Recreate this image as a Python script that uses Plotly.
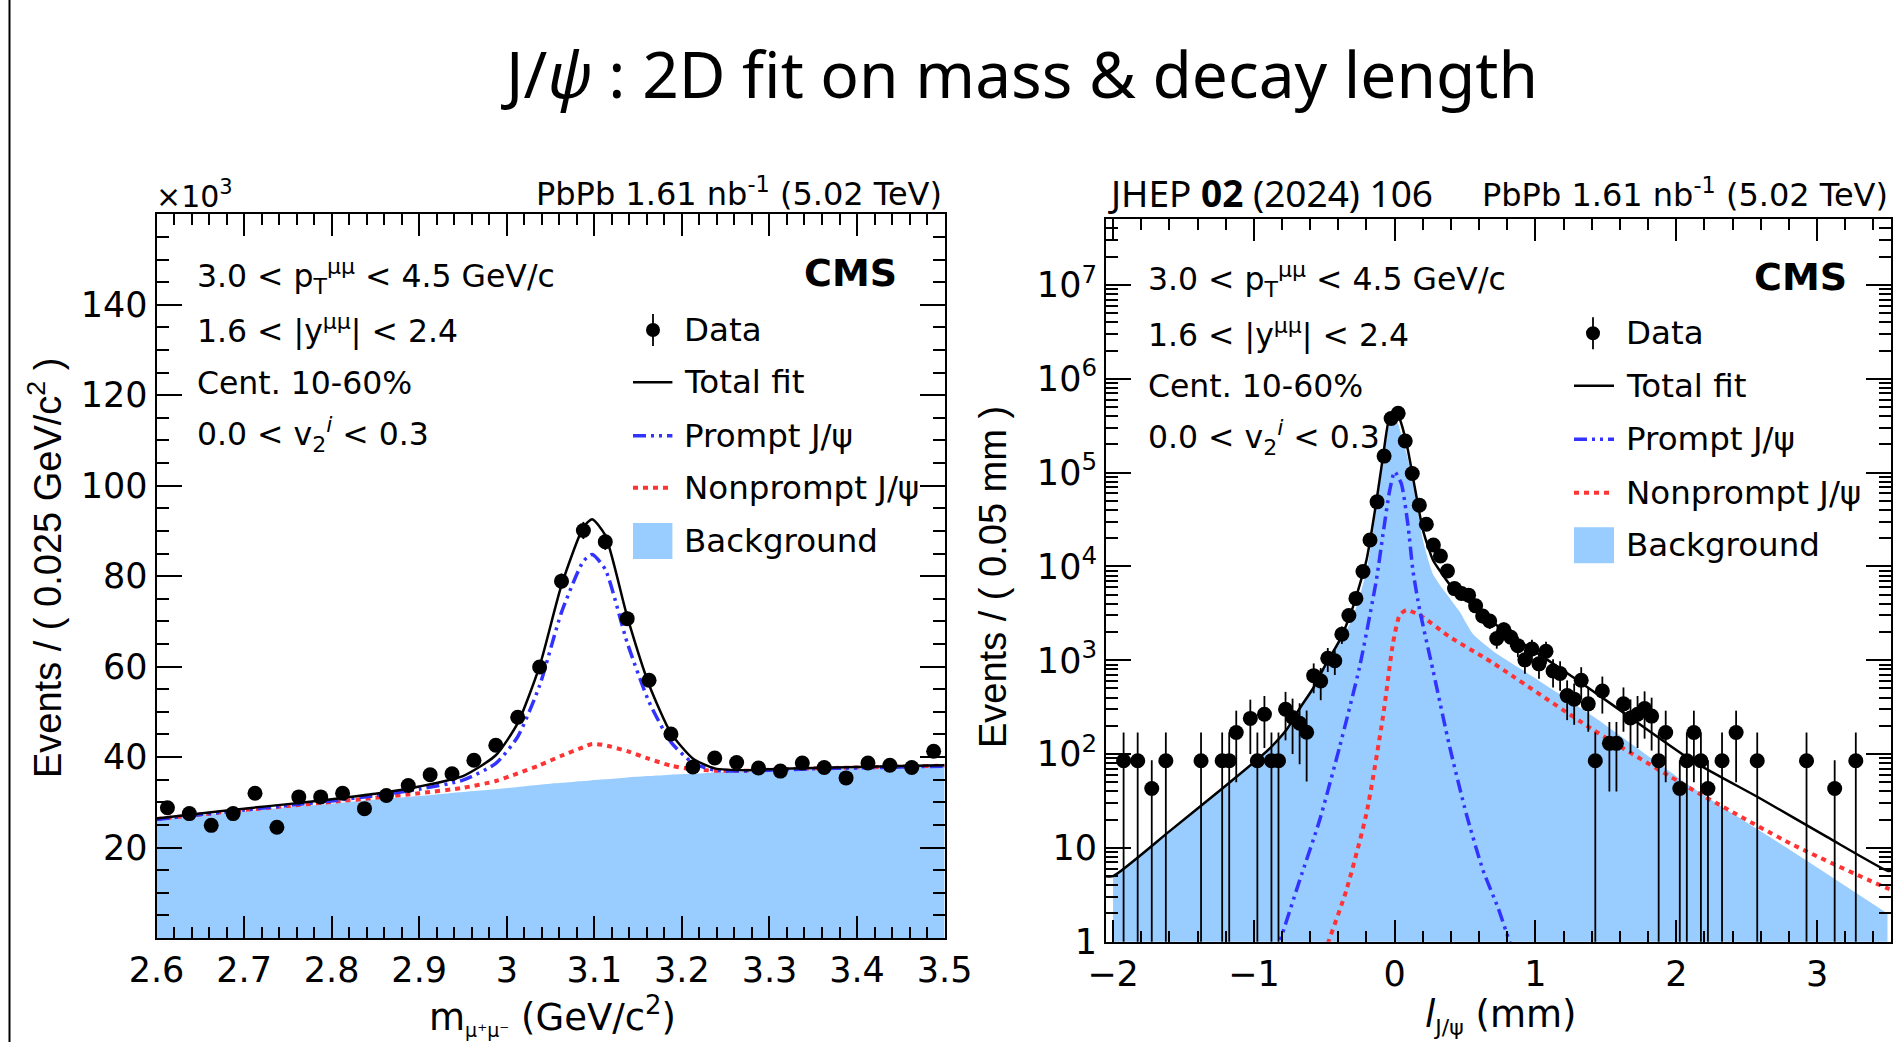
import plotly.graph_objects as go

W, H = 1894, 1042

# ---------------- Left panel: dimuon invariant mass (x10^3 events) ----------------
mass_centers = [2.6125, 2.6375, 2.6625, 2.6875, 2.7125, 2.7375, 2.7625, 2.7875, 2.8125,
                2.8375, 2.8625, 2.8875, 2.9125, 2.9375, 2.9625, 2.9875, 3.0125, 3.0375,
                3.0625, 3.0875, 3.1125, 3.1375, 3.1625, 3.1875, 3.2125, 3.2375, 3.2625,
                3.2875, 3.3125, 3.3375, 3.3625, 3.3875, 3.4125, 3.4375, 3.4625, 3.4875]
mass_counts = [28.8, 27.5, 24.9, 27.5, 32.0, 24.5, 31.2, 31.2, 32.0, 28.6, 31.5, 33.7,
               36.1, 36.3, 39.3, 42.6, 48.8, 59.9, 78.9, 90.1, 87.6, 70.6, 57.0, 45.1,
               37.8, 39.8, 38.8, 37.6, 36.9, 38.7, 37.7, 35.4, 38.7, 38.2, 37.7, 41.3]
mass_errors = [1.1, 1.1, 1.0, 1.1, 1.2, 1.0, 1.1, 1.1, 1.2, 1.1, 1.1, 1.2,
               1.2, 1.2, 1.3, 1.3, 1.4, 1.5, 1.7, 1.9, 1.8, 1.6, 1.5, 1.3,
               1.2, 1.3, 1.2, 1.2, 1.2, 1.2, 1.2, 1.2, 1.2, 1.2, 1.2, 1.3]

mass_curve_x = [2.600, 2.650, 2.700, 2.750, 2.800, 2.850, 2.900, 2.950, 2.9875, 3.0125,
                3.0375, 3.0625, 3.0875, 3.0975, 3.1125, 3.1375, 3.1625, 3.1875, 3.2125,
                3.2375, 3.275, 3.300, 3.350, 3.400, 3.450, 3.500]
mass_bkg = [26.1, 27.1, 28.0, 28.9, 29.7, 30.6, 31.4, 32.3, 32.9, 33.4, 33.9, 34.3, 34.7,
            34.9, 35.1, 35.5, 35.8, 36.1, 36.3, 36.6, 36.8, 37.0, 37.3, 37.5, 37.7, 37.9]
mass_nonprompt = [26.3, 27.3, 28.3, 29.2, 30.1, 31.0, 32.0, 33.2, 34.7, 36.4, 38.2, 40.3, 42.2,
                  42.9, 42.6, 41.3, 39.6, 38.1, 37.3, 37.0, 37.0, 37.2, 37.5, 37.7, 37.9, 38.1]
mass_prompt = [26.2, 27.3, 28.3, 29.3, 30.3, 31.5, 32.9, 34.9, 38.6, 44.5, 55.8, 72.0, 83.3,
               84.8, 81.5, 65.3, 52.2, 43.3, 38.7, 37.1, 36.9, 37.1, 37.4, 37.6, 37.8, 38.0]
mass_total = [26.4, 27.5, 28.6, 29.6, 30.7, 31.9, 33.5, 35.8, 40.4, 47.5, 60.1, 78.0, 90.8,
              92.6, 89.0, 71.1, 56.0, 45.3, 39.7, 37.5, 37.1, 37.3, 37.6, 37.8, 38.0, 38.2]

mass_tickvals = [2.6, 2.7, 2.8, 2.9, 3.0, 3.1, 3.2, 3.3, 3.4, 3.5]
mass_ticktext = ["2.6", "2.7", "2.8", "2.9", "3", "3.1", "3.2", "3.3", "3.4", "3.5"]
mass_ytickvals = [20, 40, 60, 80, 100, 120, 140]

# ---------------- Right panel: decay length ----------------
ctau_centers = [-1.925, -1.825, -1.725, -1.625, -1.375, -1.225, -1.175, -1.125, -1.025, -0.975,
                -0.925, -0.875, -0.825, -0.775, -0.725, -0.675, -0.625, -0.575, -0.525, -0.475,
                -0.425, -0.375, -0.325, -0.275, -0.225, -0.175, -0.125, -0.075, -0.025, 0.025,
                0.075, 0.125, 0.175, 0.225, 0.275, 0.325, 0.375, 0.425, 0.475, 0.525,
                0.575, 0.625, 0.675, 0.725, 0.775, 0.825, 0.875, 0.925, 0.975, 1.025,
                1.075, 1.125, 1.175, 1.225, 1.275, 1.325, 1.375, 1.425, 1.475, 1.525,
                1.575, 1.625, 1.675, 1.725, 1.775, 1.825, 1.875, 1.925, 2.025, 2.075,
                2.125, 2.175, 2.225, 2.325, 2.425, 2.575, 2.925, 3.125, 3.275]
ctau_counts = [85, 85, 43, 85, 85, 85, 85, 170, 240, 85,
               266, 85, 85, 300, 245, 213, 171, 685, 600, 1050,
               986, 1890, 3000, 4560, 8830, 19100, 48800, 150000, 378000, 428000,
               217000, 98000, 45000, 28200, 16900, 12900, 8950, 5800, 5150, 4940,
               3800, 2960, 2620, 1708, 2110, 1760, 1430, 1010, 1320, 915,
               1245, 768, 723, 420, 385, 613, 343, 85, 470, 130,
               130, 343, 242, 266, 306, 254, 85, 170, 43, 85,
               170, 85, 43, 85, 170, 85, 85, 43, 85]
ctau_errors = [85, 85, 43, 85, 85, 85, 85, 120, 140, 85,
               150, 85, 85, 160, 145, 135, 120, 240, 225, 300,
               290, 400, 505, 620, 870, 1270, 2040, 3570, 5670, 6030,
               4300, 2890, 1960, 1550, 1200, 1050, 870, 700, 660, 650,
               570, 500, 470, 380, 420, 385, 350, 290, 335, 280,
               325, 255, 250, 190, 180, 230, 170, 85, 200, 90,
               90, 170, 140, 150, 160, 145, 85, 120, 43, 85,
               120, 85, 43, 85, 120, 85, 85, 43, 85]

ctau_total_x = [-2.05, -2.00, -1.60, -1.20, -0.90, -0.77, -0.675, -0.58, -0.486, -0.39,
                -0.296, -0.20, -0.13, -0.083, -0.035, 0.012, 0.047, 0.094, 0.142, 0.201,
                0.272, 0.343, 0.414, 0.509, 0.604, 0.722, 0.84, 0.982, 1.195, 1.432,
                1.65, 2.124, 2.597, 3.07, 3.50, 3.525]
ctau_total = [5.0, 5.0, 15, 46, 110, 180, 306, 500, 925, 1640,
              3710, 11700, 48900, 147000, 394000, 456000, 334000, 174000, 70600, 24400,
              11700, 8070, 5820, 4380, 3420, 2370, 1770, 1280, 783, 443,
              260, 83, 33.6, 13.1, 5.7, 5.7]

ctau_bkg_x = [-2.00, -1.60, -1.20, -0.90, -0.77, -0.675, -0.58, -0.486, -0.39, -0.296,
              -0.20, -0.13, -0.083, -0.035, 0.012, 0.047, 0.094, 0.142, 0.201, 0.272,
              0.343, 0.40, 0.461, 0.556, 0.70, 0.90, 1.413, 2.124, 2.834, 3.50]
ctau_bkg = [5.0, 15, 46, 110, 180, 300, 490, 900, 1520, 2900,
            9000, 41000, 125000, 328000, 360000, 255000, 140000, 60000, 19000, 8300,
            5700, 4400, 3300, 1900, 1250, 800, 250, 43, 9, 2.0]

ctau_np_x = [-0.52, -0.47, -0.344, -0.201, -0.083, -0.012, 0.036, 0.083, 0.178, 0.391,
             0.627, 0.703, 1.413, 2.124, 2.834, 3.50, 3.525]
ctau_np = [0.6, 1.0, 3.5, 23, 250, 1510, 3030, 3420, 3030, 1775,
           1087, 925, 180, 41, 10.7, 3.7, 3.6]

ctau_pr_x = [-0.86, -0.817, -0.675, -0.533, -0.391, -0.249, -0.13, -0.083, -0.035, 0.0,
             0.047, 0.094, 0.13, 0.178, 0.272, 0.391, 0.509, 0.627, 0.734, 0.817, 0.86]
ctau_pr = [0.7, 1.0, 4.5, 19.7, 119, 850, 7150, 22000, 65000, 102000,
           76700, 28000, 9000, 3420, 785, 119, 23, 5.8, 2.3, 1.0, 0.7]

ctau_tickvals = [-2, -1, 0, 1, 2, 3]
ctau_ticktext = ["\u22122", "\u22121", "0", "1", "2", "3"]
ctau_ytickvals = [1, 10, 100, 1e3, 1e4, 1e5, 1e6, 1e7]
ctau_yticktext = ["1", "10", "10<sup>2</sup>", "10<sup>3</sup>", "10<sup>4</sup>",
                  "10<sup>5</sup>", "10<sup>6</sup>", "10<sup>7</sup>"]

# ---------------- styling ----------------
FONT = "DejaVu Sans"
BLUE_FILL = "#99CCFF"
RED = "#FF3333"
BLUE = "#3333FF"
DASH_PROMPT = "13px,5px,3px,5px,3px,5px"
DASH_NP = "5px,5px"


def px(x):
    return x / W


def py(y):
    return 1 - y / H


fig = go.Figure()


def add_panel(xa, ya, bkg_x, bkg, np_x, npv, pr_x, prv, tot_x, tot, dx, dy, de, msize):
    fig.add_trace(go.Scatter(x=bkg_x, y=bkg, mode="lines",
                             line=dict(color="rgba(0,0,0,0)", width=0, shape="spline", smoothing=0.6),
                             fill="tozeroy", fillcolor=BLUE_FILL, xaxis=xa, yaxis=ya, hoverinfo="skip"))
    fig.add_trace(go.Scatter(x=np_x, y=npv, mode="lines",
                             line=dict(color=RED, width=4, dash=DASH_NP, shape="spline", smoothing=0.6),
                             xaxis=xa, yaxis=ya, hoverinfo="skip"))
    fig.add_trace(go.Scatter(x=pr_x, y=prv, mode="lines",
                             line=dict(color=BLUE, width=3.5, dash=DASH_PROMPT, shape="spline", smoothing=0.6),
                             xaxis=xa, yaxis=ya, hoverinfo="skip"))
    fig.add_trace(go.Scatter(x=tot_x, y=tot, mode="lines",
                             line=dict(color="black", width=2.5, shape="spline", smoothing=0.6),
                             xaxis=xa, yaxis=ya, hoverinfo="skip"))
    fig.add_trace(go.Scatter(x=dx, y=dy, mode="markers",
                             marker=dict(size=msize, color="black"),
                             error_y=dict(type="data", array=de, visible=True, thickness=1.8,
                                          width=0, color="black"),
                             xaxis=xa, yaxis=ya, hoverinfo="skip"))


add_panel("x", "y", mass_curve_x, mass_bkg, mass_curve_x, mass_nonprompt, mass_curve_x,
          mass_prompt, mass_curve_x, mass_total, mass_centers, mass_counts, mass_errors, 15)
add_panel("x2", "y2", ctau_bkg_x, ctau_bkg, ctau_np_x, ctau_np, ctau_pr_x, ctau_pr,
          ctau_total_x, ctau_total, ctau_centers, ctau_counts, ctau_errors, 15)

common = dict(showline=True, linecolor="black", linewidth=2, mirror="allticks",
              ticks="inside", tickcolor="black", tickwidth=1.5, showgrid=False,
              zeroline=False, tickfont=dict(family=FONT, size=35, color="black"))

log_minor = [k * 10 ** d for d in range(0, 8) for k in range(2, 10) if k * 10 ** d < 10 ** 7.7]

fig.update_layout(
    width=W, height=H, margin=dict(l=0, r=0, t=0, b=0, autoexpand=False),
    paper_bgcolor="white", plot_bgcolor="white", showlegend=False,
    font=dict(family=FONT, color="black"),
    xaxis=dict(domain=[px(156.5), px(944.6)], range=[2.6, 3.5], anchor="y",
               tickmode="array", tickvals=mass_tickvals, ticktext=mass_ticktext, ticklen=22,
               minor=dict(ticks="inside", dtick=0.02, tick0=2.6, ticklen=11, tickwidth=1.5,
                          tickcolor="black"), **common),
    yaxis=dict(domain=[py(938), py(214.3)], range=[0, 160], anchor="x",
               tickmode="array", tickvals=mass_ytickvals, ticklen=25,
               minor=dict(ticks="inside", dtick=5, tick0=0, ticklen=12, tickwidth=1.5,
                          tickcolor="black"), **common),
    xaxis2=dict(domain=[px(1106), px(1891)], range=[-2.05, 3.525], anchor="y2",
                tickmode="array", tickvals=ctau_tickvals, ticktext=ctau_ticktext, ticklen=22,
                minor=dict(ticks="inside", dtick=0.2, tick0=0, ticklen=11, tickwidth=1.5,
                           tickcolor="black"), **common),
    yaxis2=dict(domain=[py(941.7), py(219.3)], type="log", range=[0, 7.7], anchor="x2",
                tickmode="array", tickvals=ctau_ytickvals, ticktext=ctau_yticktext, ticklen=25,
                minor=dict(ticks="inside", tickmode="array", tickvals=log_minor, ticklen=12,
                           tickwidth=1.5, tickcolor="black"), **common),
)

ann = []


def text(t, x, y, size, xanchor="left", yanchor="middle", family=FONT, angle=0):
    ann.append(dict(text=t, x=px(x), y=py(y), xref="paper", yref="paper", showarrow=False,
                    xanchor=xanchor, yanchor=yanchor, textangle=angle,
                    font=dict(family=family, size=size, color="black")))


# title
text("J/<i>\u03c8</i> : 2D fit on mass &amp; decay length", 1019, 73.5, 64, xanchor="center",
     family="Noto Sans")

# headers
text("\u00d710<sup>3</sup>", 154, 194, 30)
text("PbPb 1.61 nb<sup>-1</sup> (5.02 TeV)", 944, 192, 32, xanchor="right")
text("JHEP <b>02</b> (2024) 106", 1106, 192, 37, family="Noto Sans")
text("PbPb 1.61 nb<sup>-1</sup> (5.02 TeV)", 1890, 193, 32, xanchor="right")

# axis titles
text("Events / ( 0.025 GeV/c<sup>2</sup> )", 45, 568, 38, xanchor="center",
     family="Liberation Sans", angle=-90)
text("Events / ( 0.05 mm )", 993, 577, 38, xanchor="center", family="Liberation Sans", angle=-90)
text("m<sub><span style='font-size:19px'>\u03bc\u207a\u03bc\u207b</span></sub> (GeV/c<sup>2</sup>)",
     552, 1015, 37, xanchor="center")
text("<i>l</i><sub><span style='font-size:22px'>J/\u03c8</span></sub> (mm)", 1500, 1016, 37,
     xanchor="center")

# info text and legends for both panels
panels = [
    dict(tx=195, rows=[276.6, 329.8, 382.9, 434.8], cms=(899, 273), lx0=633, lx1=672.4, mk=653,
         ltx=681.8, lrows=[330, 382.3, 435.7, 487.7, 541]),
    dict(tx=1146, rows=[279.5, 333, 386, 437], cms=(1849, 277), lx0=1574, lx1=1614, mk=1593,
         ltx=1624, lrows=[333.3, 385.7, 439.3, 492.7, 545.3]),
]
info = ["3.0 &lt; p<sub>T</sub><sup>\u03bc\u03bc</sup> &lt; 4.5 GeV/c",
        "1.6 &lt; |y<sup>\u03bc\u03bc</sup>| &lt; 2.4",
        "Cent. 10-60%",
        "0.0 &lt; v<sub>2</sub><sup><i>i</i></sup> &lt; 0.3"]
legend_labels = ["Data", "Total fit", "Prompt J/\u03c8", "Nonprompt J/\u03c8", "Background"]

shapes = [dict(type="line", xref="paper", yref="paper", x0=px(9.5), x1=px(9.5), y0=0, y1=1,
               line=dict(color="black", width=2))]

for p in panels:
    for t, r in zip(info, p["rows"]):
        text(t, p["tx"], r, 31.5)
    text("<b>CMS</b>", p["cms"][0], p["cms"][1], 38, xanchor="right")
    for t, r in zip(legend_labels, p["lrows"]):
        text(t, p["ltx"], r, 32.5)
    r = p["lrows"]
    shapes.append(dict(type="line", xref="paper", yref="paper", x0=px(p["mk"]), x1=px(p["mk"]),
                       y0=py(r[0] + 16), y1=py(r[0] - 16), line=dict(color="black", width=1.8)))
    shapes.append(dict(type="circle", xref="paper", yref="paper", x0=px(p["mk"] - 7),
                       x1=px(p["mk"] + 7), y0=py(r[0] + 7), y1=py(r[0] - 7),
                       fillcolor="black", line=dict(color="black", width=0)))
    shapes.append(dict(type="line", xref="paper", yref="paper", x0=px(p["lx0"]), x1=px(p["lx1"]),
                       y0=py(r[1]), y1=py(r[1]), line=dict(color="black", width=2.5)))
    shapes.append(dict(type="line", xref="paper", yref="paper", x0=px(p["lx0"]), x1=px(p["lx1"]),
                       y0=py(r[2]), y1=py(r[2]), line=dict(color=BLUE, width=3.5, dash=DASH_PROMPT)))
    shapes.append(dict(type="line", xref="paper", yref="paper", x0=px(p["lx0"]), x1=px(p["lx1"]),
                       y0=py(r[3]), y1=py(r[3]), line=dict(color=RED, width=4, dash=DASH_NP)))
    shapes.append(dict(type="rect", xref="paper", yref="paper", x0=px(p["lx0"]), x1=px(p["lx1"]),
                       y0=py(r[4] + 18), y1=py(r[4] - 18), fillcolor=BLUE_FILL,
                       line=dict(width=0)))

fig.update_layout(annotations=ann, shapes=shapes)

post = ("var s=document.createElement('style');"
        "s.innerHTML='html,body{margin:0;padding:0;overflow:hidden;width:1894px;height:1042px;}"
        ".main-svg{overflow:hidden !important;}';"
        "document.head.appendChild(s);")
fig.write_html("out.html", config={"displayModeBar": False}, post_script=post)
